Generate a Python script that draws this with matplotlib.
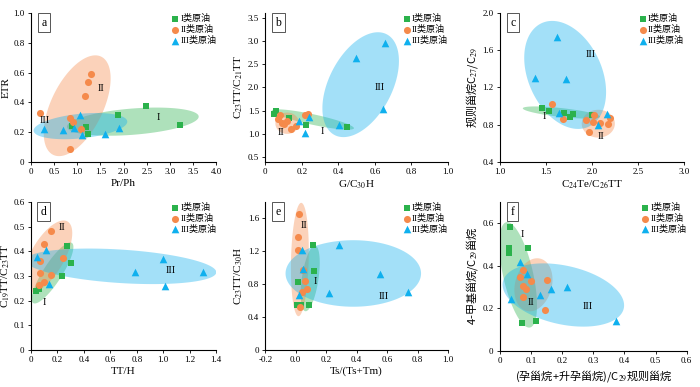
import numpy as np
import matplotlib
matplotlib.use("Agg")
import matplotlib.pyplot as plt

plt.rcParams['font.family'] = ['Liberation Serif', 'Noto Sans CJK SC']
plt.rcParams['mathtext.fontset'] = 'stix'

GREEN = "#2bb24c"
ORANGE = "#f58a4b"
BLUE = "#0fb0ee"

labels = ["I类原油", "II类原油", "III类原油"]

# --- panel a: Pr/Ph vs ETR
a_I_x = [0.88, 1.20, 1.24, 1.89, 2.48, 3.21]
a_I_y = [0.243, 0.234, 0.187, 0.317, 0.375, 0.247]
a_II_x = [0.19, 1.29, 1.24, 1.16, 0.85, 0.92, 1.08, 0.84]
a_II_y = [0.326, 0.59, 0.54, 0.445, 0.297, 0.266, 0.22, 0.084]
a_III_x = [0.28, 0.69, 0.93, 1.06, 1.11, 1.59, 1.91]
a_III_y = [0.218, 0.214, 0.225, 0.313, 0.18, 0.185, 0.229]

# --- panel b: G/C30H vs C23TT/C21TT
b_I_x = [0.058, 0.047, 0.13, 0.225, 0.445]
b_I_y = [1.50, 1.42, 1.34, 1.19, 1.14]
b_II_x = [0.08, 0.07, 0.09, 0.12, 0.14, 0.17, 0.22, 0.235, 0.10]
b_II_y = [1.41, 1.32, 1.24, 1.27, 1.10, 1.16, 1.40, 1.43, 1.22]
b_III_x = [0.187, 0.24, 0.218, 0.405, 0.495, 0.655, 0.642]
b_III_y = [1.27, 1.36, 1.01, 1.19, 2.64, 2.95, 1.53]

# --- panel c: C24Te/C26TT vs regular sterane C27/C29
c_I_x = [1.46, 1.53, 1.70, 1.76, 1.80, 2.0]
c_I_y = [0.98, 0.95, 0.92, 0.88, 0.91, 0.90]
c_II_x = [1.57, 1.69, 1.94, 2.01, 2.02, 2.09, 1.97, 2.18, 2.2]
c_II_y = [1.02, 0.86, 0.85, 0.83, 0.90, 0.82, 0.72, 0.81, 0.87]
c_III_x = [1.62, 1.38, 1.72, 1.645, 2.07, 2.16]
c_III_y = [1.74, 1.30, 1.29, 0.93, 0.80, 0.91]

# --- panel d: TT/H vs C19TT/C23TT
d_I_x = [0.275, 0.30, 0.237, 0.043, 0.06]
d_I_y = [0.42, 0.352, 0.30, 0.238, 0.245]
d_II_x = [0.149, 0.096, 0.071, 0.068, 0.245, 0.156, 0.098, 0.063]
d_II_y = [0.481, 0.431, 0.36, 0.312, 0.373, 0.305, 0.274, 0.264]
d_III_x = [0.114, 0.048, 0.139, 0.787, 0.996, 1.012, 1.30]
d_III_y = [0.406, 0.375, 0.267, 0.316, 0.37, 0.261, 0.316]

# --- panel e: Ts/(Ts+Tm) vs C23TT/C30H
e_I_x = [0.112, 0.123, 0.014, 0.009, 0.033, 0.09]
e_I_y = [1.28, 0.96, 0.83, 0.54, 0.547, 0.547]
e_II_x = [0.022, 0.018, 0.018, 0.062, 0.077, 0.04, 0.03, 0.05]
e_II_y = [1.65, 1.37, 1.215, 0.84, 0.74, 0.71, 0.52, 0.97]
e_III_x = [0.04, 0.05, 0.022, 0.22, 0.283, 0.556, 0.737]
e_III_y = [1.22, 0.99, 0.67, 0.69, 1.28, 0.92, 0.71]

# --- panel f: pregnane ratio vs 4-methyl sterane ratio
f_I_x = [0.032, 0.030, 0.030, 0.089, 0.072, 0.115]
f_I_y = [0.581, 0.482, 0.459, 0.485, 0.129, 0.141]
f_II_x = [0.073, 0.065, 0.10, 0.153, 0.075, 0.083, 0.075, 0.145]
f_II_y = [0.38, 0.349, 0.33, 0.333, 0.305, 0.292, 0.254, 0.192]
f_III_x = [0.065, 0.088, 0.165, 0.129, 0.217, 0.035, 0.374]
f_III_y = [0.416, 0.36, 0.289, 0.262, 0.298, 0.242, 0.141]

# group envelopes: centre, first half-axis vector, second half-axis vector (data units)
ell_a = [(2.2, 0.27, 1.42, 0.035, 0.02, -0.088), (1.0, 0.377, 0.52, 0.33, 0.50, -0.078),
         (1.07, 0.24, 1.01, 0.03, 0.0, 0.083)]
ell_b = [(0.26, 1.31, 0.225, -0.19, 0.006, 0.11), (0.12, 1.23, 0.065, 0.0, 0.0, 0.23),
         (0.522, 2.06, 0.142, 1.086, 0.154, -0.309)]
ell_c = [(1.67, 0.93, 0.42, -0.045, 0.0, 0.048), (2.07, 0.81, 0.18, 0.0, 0.0, 0.15),
         (1.71, 1.335, 0.254, -0.558, 0.365, 0.164)]
ell_d = [(0.164, 0.312, 0.146, 0.122, 0.059, -0.021), (0.126, 0.379, 0.151, 0.142, 0.11, -0.034),
         (0.68, 0.339, 0.72, -0.024, 0.0, 0.068)]
ell_e = [(0.095, 0.87, 0.03, 0.40, 0.055, 0.0), (0.027, 1.10, 0.009, 0.69, 0.058, 0.0),
         (0.378, 0.93, 0.445, 0.0, 0.0, 0.405)]
ell_f = [(0.059, 0.357, -0.038, 0.248, 0.047, 0.015), (0.108, 0.31, 0.012, 0.125, 0.06, 0.0),
         (0.204, 0.262, 0.194, -0.063, -0.02, -0.135)]

# roman numeral labels (I, II, III) per panel
num_a = [(2.74, 0.30), (1.51, 0.49), (0.31, 0.28)]
num_b = [(0.313, 1.05), (0.085, 1.04), (0.627, 1.99)]
num_c = [(1.48, 0.89), (2.10, 0.67), (1.99, 1.56)]
num_d = [(0.10, 0.192), (0.237, 0.495), (1.057, 0.322)]
num_e = [(0.127, 0.83), (0.055, 1.51), (0.58, 0.65)]
num_f = [(0.072, 0.548), (0.099, 0.226), (0.283, 0.21)]


def envelope(ax, e, color):
    cx, cy, ax_, ay_, bx, by = e
    t = np.linspace(0, 2 * np.pi, 200)
    xs = cx + ax_ * np.cos(t) + bx * np.sin(t)
    ys = cy + ay_ * np.cos(t) + by * np.sin(t)
    ax.fill(xs, ys, color=color, alpha=0.38, lw=0, zorder=1)


def panel(pos, tag, pts, ells, nums, xlim, xticks, xtl, ylim, yticks, ytl, xlabel, ylabel,
          cjk_x=False, cjk_y=False):
    ax = fig.add_axes(pos)
    colors = [GREEN, ORANGE, BLUE]
    for e, c in zip(ells, colors):
        envelope(ax, e, c)
    markers = ["s", "o", "^"]
    sizes = [22, 26, 30]
    for (x, y), c, m, s, lab in zip(pts, colors, markers, sizes, labels):
        ax.scatter(x, y, s=s, c=c, marker=m, lw=0, zorder=3, label=lab)
    for (x, y), txt in zip(nums, ["I", "II", "III"]):
        ax.text(x, y, txt, fontsize=7.5, ha="center", va="center", zorder=4)
    ax.set_xlim(xlim)
    ax.set_ylim(ylim)
    ax.set_xticks(xticks)
    ax.set_xticklabels(xtl)
    ax.set_yticks(yticks)
    ax.set_yticklabels(ytl)
    for sp in ["top", "right"]:
        ax.spines[sp].set_visible(False)
    for sp in ["left", "bottom"]:
        ax.spines[sp].set_linewidth(0.8)
    ax.tick_params(direction="out", length=2.5, width=0.6, labelsize=6.5, pad=2)
    ax.set_xlabel(xlabel, fontsize=8, labelpad=2,
                  family="Noto Sans CJK SC" if cjk_x else None)
    ax.set_ylabel(ylabel, fontsize=8, labelpad=2,
                  family="Noto Sans CJK SC" if cjk_y else None)
    ax.text(0.07, 0.935, tag, transform=ax.transAxes, fontsize=8.5, ha="center", va="center",
            bbox=dict(boxstyle="square,pad=0.3", fc="white", ec="#555555", lw=0.7), zorder=5)
    ax.legend(loc="upper right", bbox_to_anchor=(1.03, 1.03), frameon=False, fontsize=6.5,
              handletextpad=0.1, borderaxespad=0.2, labelspacing=0.2, handlelength=1.0,
              markerscale=1.0)
    return ax


fig = plt.figure(figsize=(7, 3.87), dpi=100)

panel([0.044, 0.582, 0.265, 0.384], "a",
      [(a_I_x, a_I_y), (a_II_x, a_II_y), (a_III_x, a_III_y)], ell_a, num_a,
      (0, 4.0), np.arange(0, 4.01, 0.5), ["0", "0.5", "1.0", "1.5", "2.0", "2.5", "3.0", "3.5", "4.0"],
      (0, 1.0), np.arange(0, 1.01, 0.2), ["0", "0.2", "0.4", "0.6", "0.8", "1.0"],
      "Pr/Ph", "ETR")

panel([0.379, 0.582, 0.261, 0.384], "b",
      [(b_I_x, b_I_y), (b_II_x, b_II_y), (b_III_x, b_III_y)], ell_b, num_b,
      (0, 1.0), np.arange(0, 1.01, 0.2), ["0", "0.2", "0.4", "0.6", "0.8", "1.0"],
      (0.4, 3.6), np.arange(0.5, 3.51, 0.5), ["0.5", "1.0", "1.5", "2.0", "2.5", "3.0", "3.5"],
      r"G/C$_{30}$H", r"C$_{23}$TT/C$_{21}$TT")

panel([0.714, 0.582, 0.263, 0.384], "c",
      [(c_I_x, c_I_y), (c_II_x, c_II_y), (c_III_x, c_III_y)], ell_c, num_c,
      (1.0, 3.0), np.arange(1.0, 3.01, 0.5), ["1.0", "1.5", "2.0", "2.5", "3.0"],
      (0.4, 2.0), np.arange(0.4, 2.01, 0.4), ["0.4", "0.8", "1.2", "1.6", "2.0"],
      r"C$_{24}$Te/C$_{26}$TT", r"规则甾烷C$_{27}$/C$_{29}$", cjk_y=True)

panel([0.044, 0.096, 0.265, 0.382], "d",
      [(d_I_x, d_I_y), (d_II_x, d_II_y), (d_III_x, d_III_y)], ell_d, num_d,
      (0, 1.4), np.arange(0, 1.41, 0.2), ["0", "0.2", "0.4", "0.6", "0.8", "1.0", "1.2", "1.4"],
      (0, 0.6), np.arange(0, 0.61, 0.1), ["0", "0.1", "0.2", "0.3", "0.4", "0.5", "0.6"],
      "TT/H", r"C$_{19}$TT/C$_{23}$TT")

panel([0.379, 0.096, 0.261, 0.382], "e",
      [(e_I_x, e_I_y), (e_II_x, e_II_y), (e_III_x, e_III_y)], ell_e, num_e,
      (-0.2, 1.0), np.arange(-0.2, 1.01, 0.2), ["-0.2", "0.0", "0.2", "0.4", "0.6", "0.8", "1.0"],
      (0, 1.8), np.arange(0, 1.61, 0.4), ["0", "0.4", "0.8", "1.2", "1.6"],
      "Ts/(Ts+Tm)", r"C$_{23}$TT/C$_{30}$H")

panel([0.714, 0.094, 0.267, 0.384], "f",
      [(f_I_x, f_I_y), (f_II_x, f_II_y), (f_III_x, f_III_y)], ell_f, num_f,
      (0, 0.6), np.arange(0, 0.61, 0.1), ["0", "0.1", "0.2", "0.3", "0.4", "0.5", "0.6"],
      (0, 0.7), np.arange(0, 0.61, 0.2), ["0", "0.2", "0.4", "0.6"],
      r"(孕甾烷+升孕甾烷)/C$_{29}$规则甾烷", r"4-甲基甾烷/C$_{29}$甾烷", cjk_x=True, cjk_y=True)

fig.savefig("out.png", dpi=100)
